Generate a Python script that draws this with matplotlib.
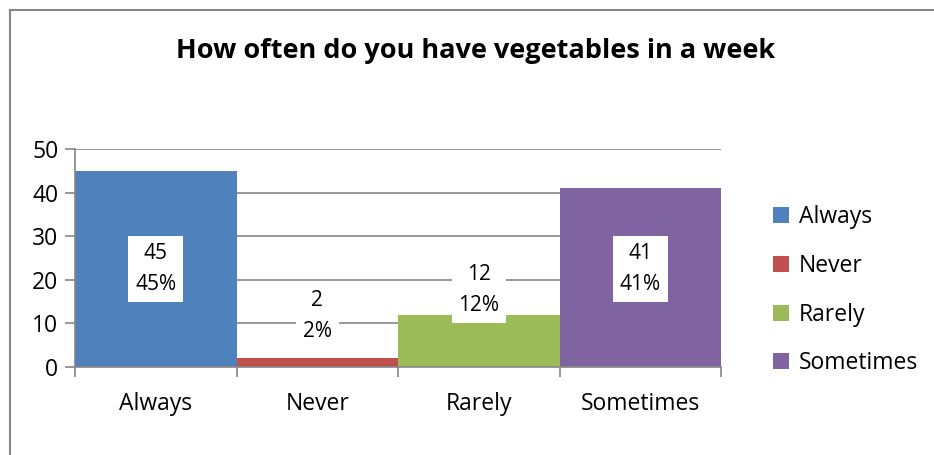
import matplotlib
matplotlib.use("Agg")
import matplotlib.pyplot as plt
from matplotlib.lines import Line2D
import numpy as np

plt.rcParams['font.family'] = ['Open Sans', 'DejaVu Sans']

categories = ['Always', 'Never', 'Rarely', 'Sometimes']
counts = [45, 2, 12, 41]
percents = [45, 2, 12, 41]
colors = ['#4F81BD', '#C0504D', '#9BBB59', '#8064A2']
yticks = [0, 10, 20, 30, 40, 50]

# label box heights (data units)
label_y = [22.5, 11.7, 17.6, 22.5]

fig = plt.figure(figsize=(9.34, 4.55), dpi=100)
ax = fig.add_axes([0.0803, 0.1934, 0.692, 0.479])

x = np.arange(len(categories))
for i in range(len(categories)):
    ax.bar(x[i], counts[i], width=1.0, color=colors[i], label=categories[i], zorder=2)
    ax.text(x[i], label_y[i], '%d\n%d%%' % (counts[i], percents[i]),
            ha='center', va='center', fontsize=15, linespacing=1.6, zorder=4,
            bbox=dict(facecolor='white', edgecolor='none', pad=5))

ax.set_xlim(-0.5, 3.5)
ax.set_ylim(0, 50)
ax.set_yticks(yticks)
ax.yaxis.grid(True, color='#868686', linewidth=1.2, zorder=0)
ax.set_axisbelow(True)

ax.set_xticks(x)
ax.set_xticklabels(categories, fontsize=16.5)
ax.set_xticks(np.arange(-0.5, 4.0, 1.0), minor=True)
ax.tick_params(axis='x', which='major', length=0, pad=18)
ax.tick_params(axis='x', which='minor', length=7, width=1.2, color='#868686')
ax.tick_params(axis='y', length=7, width=1.2, color='#868686', labelsize=16.5, pad=5)

for s in ['top', 'right']:
    ax.spines[s].set_visible(False)
for s in ['left', 'bottom']:
    ax.spines[s].set_color('#868686')
    ax.spines[s].set_linewidth(1.2)

fig.text(0.509, 0.887, 'How often do you have vegetables in a week',
         ha='center', va='center', fontsize=19.5, fontweight='bold')

ax.legend(loc='center left', bbox_to_anchor=(0.828, 0.362), bbox_transform=fig.transFigure,
          frameon=False, fontsize=16.5, handlelength=0.7, handleheight=0.7,
          handletextpad=0.4, labelspacing=1.08, borderaxespad=0, borderpad=0)

# chart area frame, only left and top edges fall inside the image
fig.add_artist(Line2D([0.0112, 0.0112], [0.0, 0.977], color='#868686', linewidth=1.5))
fig.add_artist(Line2D([0.0112, 1.0], [0.977, 0.977], color='#868686', linewidth=1.5))

fig.savefig('out.png', dpi=100, facecolor='white')
